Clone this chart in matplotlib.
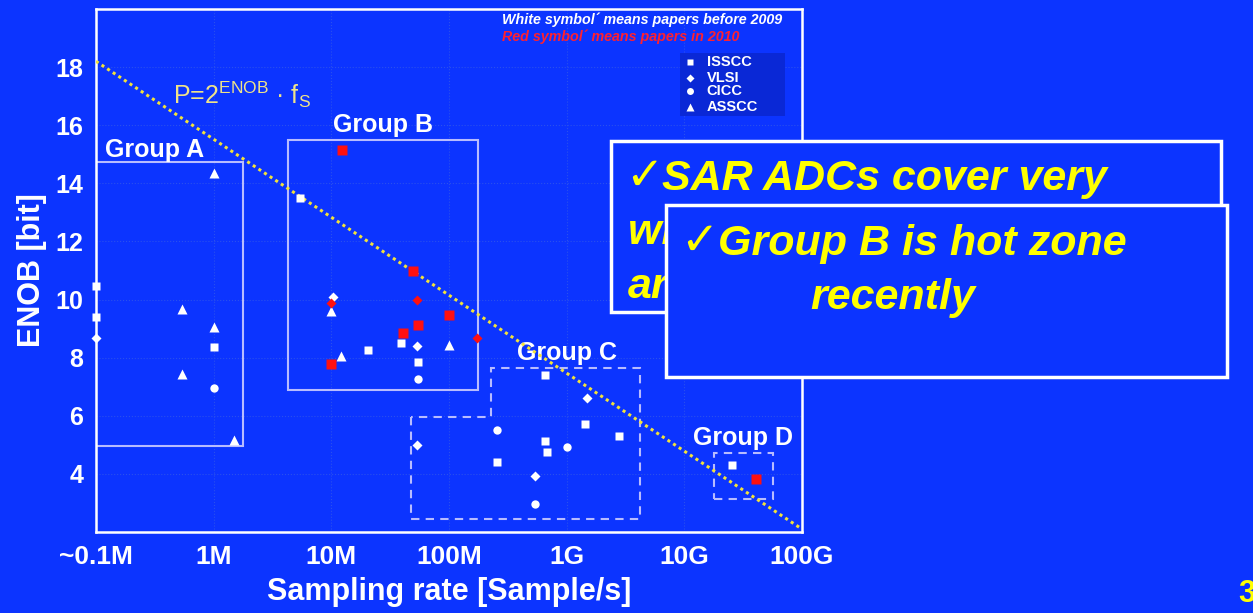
import numpy as np
import matplotlib
matplotlib.use('Agg')
import matplotlib.pyplot as plt
from matplotlib.patches import Rectangle, Polygon

plt.rcParams['font.family'] = ['Liberation Sans', 'DejaVu Sans']
plt.rcParams['mathtext.fontset'] = 'custom'
plt.rcParams['mathtext.rm'] = 'Liberation Sans'

BG = '#0c34ff'
YELLOW = '#ffff00'
BOXEDGE = '#b8bcff'

# --- published SAR ADCs: sampling rate [S/s] and ENOB [bit] ---
# white = before 2009, red = 2010
white_isscc_rate = [1e5, 1e5, 1e6, 5.4e6, 3.9e7, 2.05e7, 5.4e7, 6.5e8, 1.43e9, 2.8e9,
                    6.5e8, 6.8e8, 2.55e8, 2.55e10]
white_isscc_enob = [10.48, 9.39, 8.38, 13.48, 8.49, 8.27, 7.84, 7.39, 5.70, 5.32,
                    5.13, 4.77, 4.40, 4.31]
white_vlsi_rate = [1e5, 1.03e7, 5.3e7, 1.5e9, 5.3e7, 5.35e8]
white_vlsi_enob = [8.66, 10.08, 8.41, 6.61, 4.98, 3.94]
white_cicc_rate = [1e6, 5.4e7, 2.55e8, 1e9, 5.35e8]
white_cicc_enob = [6.96, 7.27, 5.51, 4.94, 2.96]
white_asscc_rate = [1e6, 5.4e5, 1e6, 5.4e5, 1.48e6, 1e7, 1e8, 1.2e7]
white_asscc_enob = [14.36, 9.66, 9.04, 7.45, 5.18, 9.62, 8.45, 8.06]
red_isscc_rate = [1.23e7, 4.9e7, 1e8, 5.4e7, 4.1e7, 1.0e7, 4.1e10]
red_isscc_enob = [15.14, 11.0, 9.47, 9.11, 8.84, 7.78, 3.84]
red_vlsi_rate = [1.0e7, 5.3e7, 1.73e8]
red_vlsi_enob = [9.87, 9.97, 8.66]

# constant-power trend line
trend_rate = [1e5, 1e11]
trend_enob = [18.2, 2.1]

x_ticks = [1e5, 1e6, 1e7, 1e8, 1e9, 1e10, 1e11]
x_labels = ['~0.1M', '1M', '10M', '100M', '1G', '10G', '100G']
y_ticks = [4, 6, 8, 10, 12, 14, 16, 18]
venues = ['ISSCC', 'VLSI', 'CICC', 'ASSCC']

W, H = 1253, 613
fig = plt.figure(figsize=(W / 100, H / 100), dpi=100, facecolor=BG)
ax = fig.add_axes([96 / W, 81 / H, 706 / W, 523 / H])
ax.set_facecolor(BG)
ax.set_xscale('log')
ax.set_xlim(1e5, 1e11)
ax.set_ylim(2, 20)

ax.set_xticks(x_ticks)
ax.set_xticklabels(x_labels)
ax.minorticks_off()
ax.set_yticks(y_ticks)
ax.tick_params(length=0, colors='white', labelsize=18, pad=9)
for lab in ax.get_xticklabels() + ax.get_yticklabels():
    lab.set_fontweight('bold')
for lab in ax.get_xticklabels():
    lab.set_fontsize(19)
for s in ax.spines.values():
    s.set_color('white')
    s.set_linewidth(1.8)
ax.grid(True, color='#2a50ee', lw=0.8, ls=':')
ax.set_axisbelow(True)

ax.set_xlabel('Sampling rate [Sample/s]', color='white', fontsize=22,
              fontweight='bold', labelpad=6)
ax.set_ylabel('ENOB [bit]', color='white', fontsize=22, fontweight='bold',
              labelpad=6)

# group boxes
boxkw = dict(fill=False, ec=BOXEDGE, lw=1.5, zorder=2)
ax.add_patch(Rectangle((1e5, 4.96), 1.77e6 - 1e5, 14.73 - 4.96, **boxkw))
ax.add_patch(Rectangle((4.25e6, 6.89), 1.78e8 - 4.25e6, 15.48 - 6.89, **boxkw))
ax.add_patch(Polygon([(4.8e7, 5.97), (4.8e7, 2.44), (4.2e9, 2.44), (4.2e9, 7.64),
                      (2.29e8, 7.64), (2.29e8, 5.97)], closed=True,
                     ls=(0, (4, 3)), **boxkw))
ax.add_patch(Rectangle((1.77e10, 3.13), 5.66e10 - 1.77e10, 4.73 - 3.13,
                       ls=(0, (4, 3)), **boxkw))

gkw = dict(color='white', fontsize=18, fontweight='bold', va='center')
ax.text(1.2e5, 15.15, 'Group A', ha='left', **gkw)
ax.text(2.77e7, 16.0, 'Group B', ha='center', **gkw)
ax.text(1.0e9, 8.17, 'Group C', ha='center', **gkw)
ax.text(3.15e10, 5.24, 'Group D', ha='center', **gkw)

# trend line P = 2^ENOB * fs
ax.plot(trend_rate, trend_enob, color='#f2e23a', lw=2.2, ls=(0, (1, 1.2)),
        zorder=3)

mkw = dict(ls='none', mec='none', clip_on=False, zorder=4)
ax.plot(white_isscc_rate, white_isscc_enob, 's', ms=6, mfc='white', **mkw)
ax.plot(white_vlsi_rate, white_vlsi_enob, 'D', ms=5, mfc='white', **mkw)
ax.plot(white_cicc_rate, white_cicc_enob, 'o', ms=6, mfc='white', **mkw)
ax.plot(white_asscc_rate, white_asscc_enob, '^', ms=6.5, mfc='white', **mkw)
ax.plot(red_isscc_rate, red_isscc_enob, 's', ms=6.5, mfc='#ff1010', **mkw)
ax.plot(red_vlsi_rate, red_vlsi_enob, 'D', ms=5.5, mfc='#ff1010', **mkw)

# venue key, drawn by hand in axes fraction
ax.add_patch(Rectangle((0.827, 0.795), 0.149, 0.121, transform=ax.transAxes,
                       fc='#0a28d6', ec='none', zorder=5))
key_rows = [0.899, 0.868, 0.843, 0.813]
for name, mk, s, yy in zip(venues, ['s', 'D', 'o', '^'], [5, 4, 5, 5.5], key_rows):
    ax.plot([0.841], [yy], mk, ms=s, mfc='white', mec='none',
            transform=ax.transAxes, zorder=6)
    ax.text(0.865, yy, name, color='white', fontsize=10.5, fontweight='bold',
            va='center', ha='left', transform=ax.transAxes, zorder=6)


def fx(x):
    return x / W


def fy(y):
    return 1 - y / H


fig.text(fx(173), fy(104), r'P=2$^{\rm ENOB}$ · f$_{\rm S}$', color='#efe38a',
         fontsize=18, va='baseline', ha='left')
fig.text(fx(502), fy(20), 'White symbol´ means papers before 2009', color='white',
         fontsize=10.3, fontweight='bold', style='italic', va='center')
fig.text(fx(502), fy(37), 'Red symbol´ means papers in 2010', color='#ff2030',
         fontsize=10.3, fontweight='bold', style='italic', va='center')

# callout boxes
fig.add_artist(Rectangle((fx(611), fy(312)), 610 / W, 171 / H,
                         transform=fig.transFigure, fc=BG, ec='white', lw=2.5,
                         zorder=5))
tkw = dict(color=YELLOW, fontsize=31, fontweight='bold', style='italic',
           va='baseline', ha='left')
ckw = dict(color=YELLOW, fontsize=33, family='DejaVu Sans', va='baseline',
           ha='left')
fig.text(fx(625), fy(190), '✓', zorder=6, **ckw)
fig.text(fx(662), fy(190), 'SAR ADCs cover very', zorder=6, **tkw)
fig.text(fx(628), fy(244), 'wide application', zorder=6, **tkw)
fig.text(fx(628), fy(298), 'area', zorder=6, **tkw)

fig.add_artist(Rectangle((fx(666), fy(377)), 561 / W, 172 / H,
                         transform=fig.transFigure, fc=BG, ec='white', lw=2.5,
                         zorder=7))
fig.text(fx(680), fy(255), '✓', zorder=8, **ckw)
fig.text(fx(718), fy(255), 'Group B is hot zone', zorder=8, **tkw)
fig.text(fx(893), fy(309), 'recently', zorder=8,
         **{**tkw, 'ha': 'center'})

fig.text(fx(1238), fy(602), '3', color=YELLOW, fontsize=22, fontweight='bold',
         va='baseline', ha='left')

fig.savefig('out.png', dpi=100, facecolor=BG)
